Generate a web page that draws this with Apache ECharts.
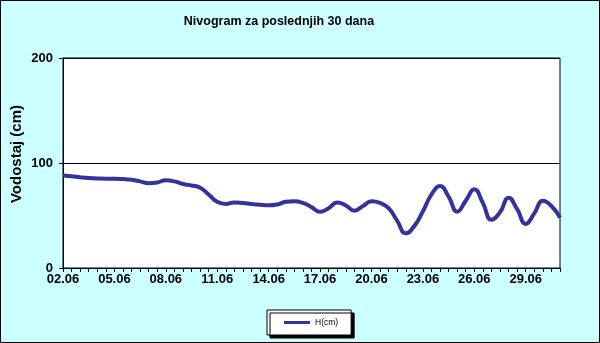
<!DOCTYPE html>
<html>
<head>
<meta charset="utf-8">
<script src="https://cdn.jsdelivr.net/npm/echarts@6/dist/echarts.min.js"></script>
<style>
  html, body { margin: 0; padding: 0; background: #CCFFFF; }
  #chart { width: 600px; height: 343px; }
</style>
</head>
<body>
<div id="chart"></div>
<script>
// Days covered by the water-level record (two readings per day)
var days = ['02.06','03.06','04.06','05.06','06.06','07.06','08.06','09.06','10.06','11.06',
            '12.06','13.06','14.06','15.06','16.06','17.06','18.06','19.06','20.06','21.06',
            '22.06','23.06','24.06','25.06','26.06','27.06','28.06','29.06','30.06','01.07'];

// Water level H (cm), morning and evening readings
var levels = [88, 87.3, 86.5, 85.8, 85.3, 85, 85, 84.7, 84, 82.5,
              80.8, 81.5, 83.5, 82.5, 80, 78.5, 76.5, 70, 63, 61,
              62.5, 62, 61, 60.2, 59.7, 60.5, 63, 63.5, 62, 58,
              53.6, 57, 62.5, 59.5, 54.6, 59, 63.5, 62, 57, 45,
              33, 40, 54, 70, 78, 68, 53.6, 64, 75, 62,
              46, 53, 67, 56, 42, 52, 64, 59, 48];

var yTicks = [0, 100, 200];
var seriesName = 'H(cm)';

// One category per reading: each day twice, the final day once
var categories = [];
days.forEach(function (d) { categories.push(d, d); });
categories = categories.slice(0, levels.length);

var chart = echarts.init(document.getElementById('chart'), null, { renderer: 'canvas' });
var font = '"Liberation Sans", Arial, sans-serif';

chart.setOption({
  backgroundColor: '#CCFFFF',
  animation: false,
  graphic: [
    { type: 'rect', shape: { x: 0.5, y: 0.5, width: 599, height: 342 },
      style: { fill: 'none', stroke: '#000', lineWidth: 1 }, z: 100 },
    { type: 'text', x: 279, y: 22,
      style: { text: 'Nivogram za poslednjih 30 dana', font: 'bold 12.5px ' + font,
               fill: '#000', textAlign: 'center', textVerticalAlign: 'middle' } },
    { type: 'text', x: 17, y: 154, rotation: Math.PI / 2,
      style: { text: 'Vodostaj (cm)', font: 'bold 15px ' + font,
               fill: '#000', textAlign: 'center', textVerticalAlign: 'middle' } }
  ],
  grid: { left: 63, right: 40, top: 58, bottom: 75, show: true,
          backgroundColor: '#fff', borderColor: '#000', borderWidth: 1 },
  legend: {
    left: 267, top: 310,
    padding: [8, 13, 8, 17],
    backgroundColor: '#fff', borderColor: '#000', borderWidth: 1,
    shadowColor: '#000', shadowBlur: 0, shadowOffsetX: 3, shadowOffsetY: 3,
    itemWidth: 26, itemHeight: 3, itemGap: 5,
    icon: 'rect',
    textStyle: { fontFamily: font, fontSize: 8.5, color: '#000' },
    data: [seriesName]
  },
  xAxis: {
    type: 'category',
    data: categories,
    boundaryGap: false,
    axisLine: { lineStyle: { color: '#000', width: 1 } },
    axisTick: { show: true, interval: 0, length: 4, lineStyle: { color: '#000' } },
    axisLabel: { interval: 5, margin: 5, color: '#000', fontFamily: font,
                 fontSize: 13, fontWeight: 'bold' },
    splitLine: { show: false }
  },
  yAxis: {
    type: 'value',
    min: yTicks[0], max: yTicks[yTicks.length - 1], interval: 100,
    axisLine: { show: true, lineStyle: { color: '#000', width: 1 } },
    axisTick: { show: true, length: 4, lineStyle: { color: '#000' } },
    axisLabel: { margin: 10, color: '#000', fontFamily: font, fontSize: 13, fontWeight: 'bold' },
    splitLine: { show: true, lineStyle: { color: '#000', width: 1 } }
  },
  series: [{
    name: seriesName,
    type: 'line',
    data: levels,
    smooth: 0.5,
    symbol: 'none',
    itemStyle: { color: '#333399' },
    lineStyle: { color: '#333399', width: 4 }
  }]
});
</script>
</body>
</html>
